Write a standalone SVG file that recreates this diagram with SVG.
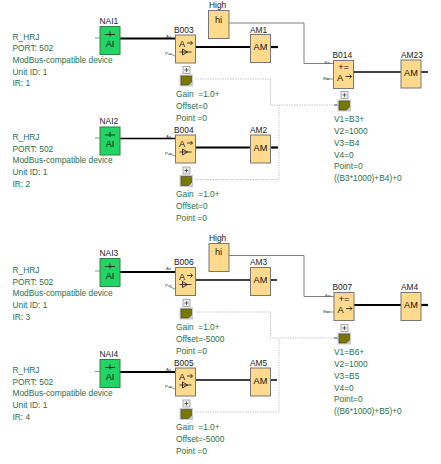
<svg xmlns="http://www.w3.org/2000/svg" width="441" height="464" viewBox="0 0 441 464">
<style>
text{font-family:"Liberation Sans",Arial,sans-serif;white-space:pre}
.t{font-size:8.35px;fill:#2a6f4a}
.l{font-size:8.4px;fill:#222}
.p{font-size:4.4px;fill:#444}
.g{font-size:9.2px;fill:#111;text-anchor:middle}
.b{fill:#ffd98c;stroke:#777;stroke-width:1}
.a{fill:#22d465;stroke:#3a7a4a;stroke-width:1}
.w{fill:none;stroke:#000;stroke-width:2.2}
.n{fill:none;stroke:#000;stroke-width:1.5}
.h{fill:none;stroke:#808080;stroke-width:1}
.d{fill:none;stroke:#c8c8c8;stroke-width:1;stroke-dasharray:1.5 1}
.s{fill:none;stroke:#4d9a63;stroke-width:.8}
.m{fill:none;stroke:#111;stroke-width:.8}
</style>
<defs>
<g id="note">
<rect x="0" y="0" width="7" height="7" fill="#eee" stroke="#999" stroke-width=".8"/>
<path d="M1.500 3.500h4M3.500 1.500v4" stroke="#333" stroke-width=".7" fill="none"/>
<rect x="-3.500" y="8" width="13.500" height="12" fill="#c9c9c9"/>
<path d="M-2 9.500h10.500v6l-3 3h-7.500z" fill="#787800" stroke="#333" stroke-width=".5"/>
</g>
<g id="ifn"><path class="m" d="M11.500 8h5.500M15 6l2 2-2 2M4 17h12M7 14v6l5-3z"/></g>
<g id="ifa"><path class="m" d="M12 14h6M16 12l2 2-2 2"/></g>
<g id="aimark"><path class="m" d="M5 8h10M10 5v5"/></g>
</defs>
<g id="connectors">
<path class="w" d="M120 38.500H175"/><path class="w" d="M195.500 47H250"/><path class="w" d="M270.500 47H278"/>
<path class="h" d="M229 23H304V63.500H333"/>
<path class="n" d="M354 72H401"/><path class="n" d="M421 72H428"/>
<path class="d" d="M195 79H270.500V105H334"/><path class="d" d="M195 179.500H279V105"/>
<path d="M334 105H338" stroke="#444" fill="none"/>
<path class="w" style="stroke-width:1.700" d="M120 138.500H175"/><path class="w" d="M195.500 147.500H250"/><path class="w" d="M270.500 147.500H278"/>
<path class="w" d="M120 272H175"/><path class="n" d="M196 280H251"/><path class="n" d="M270.500 280H277"/>
<path class="h" d="M229 255.500H304V296.500H334"/>
<path class="w" d="M354 305H401"/><path class="w" d="M421 305H428"/>
<path class="d" d="M196 312H270.500V338H334"/><path class="d" d="M195 412H279V338"/>
<path d="M334 338H338" stroke="#444" fill="none"/>
<path class="w" d="M120 372H175"/><path class="n" d="M195.500 380H251"/><path class="n" d="M270.500 380H277"/>
<path class="s" d="M95 38H100M95 138H100M95 271H100M95 371.500H100"/>
<path class="s" d="M170 54L175 56M170 154L175 156M170 287L175 289M170 387L175 389M324 79H334M324 312H334"/>
</g>

<g id="NAI1"><rect class="a" x="100" y="26.500" width="20" height="28"/><use href="#aimark" x="100" y="26.500"/><text class="g" x="110" y="46.500">AI</text><text class="l" x="99.500" y="23.500">NAI1</text>
<text class="t" x="12.500" y="40">R_HRJ</text><text class="t" x="12.500" y="51">PORT: 502</text><text class="t" x="12.500" y="63">ModBus-compatible device</text><text class="t" x="12.500" y="75">Unit ID: 1</text><text class="t" x="12.500" y="86">IR: 1</text></g>
<g id="B003"><rect class="b" x="175.500" y="35" width="20" height="28"/><use href="#ifn" x="175.500" y="35"/><text class="g" x="182" y="47">A</text><text class="l" x="174" y="32.500">B003</text><text class="p" x="166" y="37.500">Ax</text><text class="p" x="165" y="54.500">Par</text>
<use href="#note" x="183" y="66.500"/><text class="t" x="176" y="97">Gain  =1.0+</text><text class="t" x="176" y="109">Offset=0</text><text class="t" x="176" y="120.500">Point =0</text></g>
<g id="High1"><rect class="b" x="208.500" y="10.500" width="20.500" height="28"/><text class="g" x="218.500" y="22.500">hi</text><text class="l" x="209" y="7.500">High</text></g>
<g id="AM1"><rect class="b" x="250.500" y="34.500" width="20" height="28"/><text class="g" x="260.500" y="50">AM</text><text class="l" x="250" y="32.500">AM1</text></g>
<g id="B014"><rect class="b" x="333.500" y="60.500" width="20" height="28"/><text class="g" x="343.500" y="70">+=</text><text class="g" x="340" y="80.500">A</text><use href="#ifa" x="333.500" y="62.500"/><text class="l" x="332.500" y="57.500">B014</text><text class="p" x="324.500" y="63.500">En</text><text class="p" x="323" y="80">Par</text>
<use href="#note" x="341" y="91.500"/><text class="t" x="334" y="121.500">V1=B3+</text><text class="t" x="334" y="134">V2=1000</text><text class="t" x="334" y="146">V3=B4</text><text class="t" x="334" y="157.500">V4=0</text><text class="t" x="334" y="169">Point=0</text><text class="t" x="334" y="181">((B3*1000)+B4)+0</text></g>
<g id="AM23"><rect class="b" x="401" y="60" width="20" height="28"/><text class="g" x="411" y="76">AM</text><text class="l" x="401" y="57.500">AM23</text></g>

<g id="NAI2"><rect class="a" x="100" y="127" width="20" height="28"/><use href="#aimark" x="100" y="127"/><text class="g" x="110" y="147">AI</text><text class="l" x="99.500" y="124">NAI2</text>
<text class="t" x="12.500" y="140">R_HRJ</text><text class="t" x="12.500" y="151.500">PORT: 502</text><text class="t" x="12.500" y="163">ModBus-compatible device</text><text class="t" x="12.500" y="175">Unit ID: 1</text><text class="t" x="12.500" y="186.500">IR: 2</text></g>
<g id="B004"><rect class="b" x="175.500" y="135" width="20" height="28"/><use href="#ifn" x="175.500" y="135"/><text class="g" x="182" y="147">A</text><text class="l" x="174" y="132.500">B004</text><text class="p" x="166" y="137.500">Ax</text><text class="p" x="165" y="154.500">Par</text>
<use href="#note" x="183" y="167"/><text class="t" x="176" y="197">Gain  =1.0+</text><text class="t" x="176" y="209">Offset=0</text><text class="t" x="176" y="221">Point =0</text></g>
<g id="AM2"><rect class="b" x="250.500" y="135" width="20" height="28"/><text class="g" x="260.500" y="150.500">AM</text><text class="l" x="250" y="132.500">AM2</text></g>

<g id="NAI3"><rect class="a" x="100" y="258.500" width="20" height="28"/><use href="#aimark" x="100" y="258.500"/><text class="g" x="110" y="278.500">AI</text><text class="l" x="99.500" y="255.500">NAI3</text>
<text class="t" x="12.500" y="273">R_HRJ</text><text class="t" x="12.500" y="284.500">PORT: 502</text><text class="t" x="12.500" y="296">ModBus-compatible device</text><text class="t" x="12.500" y="308">Unit ID: 1</text><text class="t" x="12.500" y="319.500">IR: 3</text></g>
<g id="B006"><rect class="b" x="175.500" y="267.500" width="20" height="28"/><use href="#ifn" x="175.500" y="267.500"/><text class="g" x="182" y="279.500">A</text><text class="l" x="174" y="265">B006</text><text class="p" x="166" y="270">Ax</text><text class="p" x="165" y="287">Par</text>
<use href="#note" x="183" y="299.500"/><text class="t" x="176" y="330">Gain  =1.0+</text><text class="t" x="176" y="342">Offset=-5000</text><text class="t" x="176" y="354">Point =0</text></g>
<g id="High2"><rect class="b" x="209" y="243.500" width="20" height="28"/><text class="g" x="218.500" y="255">hi</text><text class="l" x="209" y="240.500">High</text></g>
<g id="AM3"><rect class="b" x="250.500" y="267.500" width="20" height="28"/><text class="g" x="260.500" y="283">AM</text><text class="l" x="250" y="265">AM3</text></g>
<g id="B007"><rect class="b" x="334" y="292.500" width="20" height="28"/><text class="g" x="344" y="302">+=</text><text class="g" x="340.500" y="312.500">A</text><use href="#ifa" x="334" y="294.500"/><text class="l" x="332.500" y="289.500">B007</text><text class="p" x="325" y="296.500">En</text><text class="p" x="323" y="313">Par</text>
<use href="#note" x="341" y="324.500"/><text class="t" x="334" y="354.500">V1=B6+</text><text class="t" x="334" y="367">V2=1000</text><text class="t" x="334" y="379">V3=B5</text><text class="t" x="334" y="390.500">V4=0</text><text class="t" x="334" y="402">Point=0</text><text class="t" x="334" y="414">((B6*1000)+B5)+0</text></g>
<g id="AM4"><rect class="b" x="401" y="292.500" width="20" height="28"/><text class="g" x="411" y="308">AM</text><text class="l" x="401" y="289.500">AM4</text></g>

<g id="NAI4"><rect class="a" x="100" y="359.500" width="20" height="28"/><use href="#aimark" x="100" y="359.500"/><text class="g" x="110" y="379.500">AI</text><text class="l" x="99.500" y="356.500">NAI4</text>
<text class="t" x="12.500" y="373">R_HRJ</text><text class="t" x="12.500" y="384.500">PORT: 502</text><text class="t" x="12.500" y="396">ModBus-compatible device</text><text class="t" x="12.500" y="408">Unit ID: 1</text><text class="t" x="12.500" y="419.500">IR: 4</text></g>
<g id="B005"><rect class="b" x="175.500" y="368" width="20" height="28"/><use href="#ifn" x="175.500" y="368"/><text class="g" x="182" y="380">A</text><text class="l" x="174" y="365.500">B005</text><text class="p" x="166" y="370.500">Ax</text><text class="p" x="165" y="387.500">Par</text>
<use href="#note" x="183" y="400"/><text class="t" x="176" y="430">Gain  =1.0+</text><text class="t" x="176" y="442">Offset=-5000</text><text class="t" x="176" y="454">Point =0</text></g>
<g id="AM5"><rect class="b" x="250.500" y="368" width="20" height="28"/><text class="g" x="260.500" y="383.500">AM</text><text class="l" x="250" y="365.500">AM5</text></g>
</svg>
